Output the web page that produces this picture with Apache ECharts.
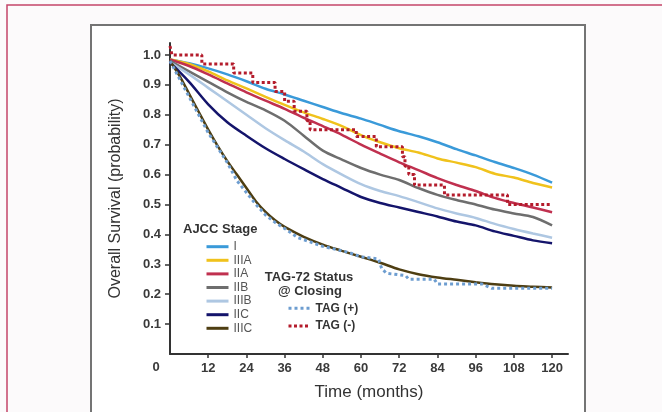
<!DOCTYPE html>
<html>
<head>
<meta charset="utf-8">
<script src="https://cdn.jsdelivr.net/npm/echarts@6/dist/echarts.min.js"></script>
<style>html,body{margin:0;padding:0;background:#fcfafb;}#c{width:662px;height:412px;}</style>
</head>
<body>
<div id="c"></div>
<script>
// ---- data ----
const stageMonths = [0,6,12,18,24,30,36,42,48,54,60,66,72,78,84,90,96,102,108,114,120];
const stageI    = [0.985,0.972,0.955,0.935,0.912,0.887,0.868,0.847,0.826,0.805,0.787,0.766,0.745,0.728,0.708,0.685,0.664,0.642,0.622,0.600,0.573];
const stageIIIA = [0.985,0.970,0.945,0.915,0.888,0.860,0.833,0.808,0.786,0.762,0.732,0.708,0.688,0.674,0.654,0.640,0.625,0.603,0.590,0.572,0.557];
const stageIIA  = [0.985,0.963,0.935,0.905,0.875,0.847,0.820,0.790,0.762,0.733,0.700,0.670,0.641,0.615,0.588,0.565,0.545,0.522,0.505,0.490,0.474];
const stageIIB  = [0.980,0.945,0.910,0.875,0.843,0.815,0.780,0.730,0.680,0.650,0.622,0.600,0.582,0.555,0.532,0.515,0.500,0.483,0.470,0.458,0.430];
const stageIIIB = [0.975,0.935,0.890,0.845,0.800,0.755,0.715,0.677,0.635,0.600,0.568,0.545,0.528,0.508,0.487,0.470,0.455,0.435,0.418,0.403,0.389];
const stageIIC  = [0.975,0.910,0.835,0.775,0.730,0.688,0.652,0.618,0.585,0.555,0.525,0.505,0.490,0.475,0.460,0.443,0.430,0.410,0.395,0.380,0.370];
const iiicMonths = [0,3,6,9,12,15,18,21,24,27,30,33,36,42,48,54,60,66,72,78,84,90,96,102,108,114,120];
const stageIIIC  = [0.980,0.930,0.870,0.810,0.750,0.695,0.645,0.600,0.555,0.510,0.475,0.447,0.425,0.392,0.366,0.345,0.325,0.305,0.283,0.267,0.256,0.248,0.240,0.233,0.228,0.225,0.222];
const tagPosMonths = [0,3,6,9,12,15,18,21,24,27,30,33,36,40,44,48,52,56,60,65.5,66.5,68,74,75,83,84,98,101,120];
const tagPosValues = [0.980,0.920,0.860,0.800,0.740,0.690,0.640,0.580,0.540,0.500,0.465,0.440,0.420,0.390,0.375,0.360,0.350,0.340,0.325,0.318,0.285,0.270,0.262,0.250,0.250,0.234,0.234,0.220,0.220];
const tagNegMonths = [0,0.6,10,20,26,33,36,39,43,44,58.5,64.8,73,73.8,75,76.8,86.2,106,120];
const tagNegValues = [1.03,1.0,0.97,0.94,0.908,0.878,0.845,0.812,0.78,0.75,0.727,0.693,0.66,0.628,0.60,0.565,0.532,0.50,0.50];
const stageNames = ['I','IIIA','IIA','IIB','IIIB','IIC','IIIC'];
const tagNames = ['TAG (+)','TAG (-)'];
const xTicks = [12,24,36,48,60,72,84,96,108,120];
const yTicks = [0.1,0.2,0.3,0.4,0.5,0.6,0.7,0.8,0.9,1.0];

const stageColors = ['#3a9ad9','#f0c21c','#c0304f','#6e6e6e','#aec7e2','#14146b','#4e3e12'];
const stageValues = [stageI,stageIIIA,stageIIA,stageIIB,stageIIIB,stageIIC];

const zip = (xs, ys) => xs.map((x,i)=>[x, ys[i]]);
const series = [];
stageNames.forEach((n,i)=>{
  const data = n === 'IIIC' ? zip(iiicMonths, stageIIIC) : zip(stageMonths, stageValues[i]);
  series.push({name:n,type:'line',data,symbol:'none',smooth:0.3,
    lineStyle:{color:stageColors[i],width:2.5},itemStyle:{color:stageColors[i]},z:2});
});
series.push({name:tagNames[0],type:'line',data:zip(tagPosMonths,tagPosValues),symbol:'none',
  lineStyle:{color:'#6d9dd0',width:3,type:[3,3]},itemStyle:{color:'#6d9dd0'},z:3});
series.push({name:tagNames[1],type:'line',step:'end',data:zip(tagNegMonths,tagNegValues),symbol:'none',
  lineStyle:{color:'#b41c2c',width:3,type:[3,2.5]},itemStyle:{color:'#b41c2c'},z:4});

const hiddenSymbol = {color:'rgba(0,0,0,0)',borderWidth:0,opacity:0};
const chart = echarts.init(document.getElementById('c'), null, {renderer:'canvas'});
chart.setOption({
  animation:false,
  backgroundColor:'#fcfafb',
  grid:{left:170,right:94,top:43,bottom:58,containLabel:false},
  xAxis:{type:'value',min:0,max:125,
    name:'Time (months)',nameLocation:'middle',nameGap:30,
    nameTextStyle:{fontSize:17,color:'#333',fontFamily:'Liberation Sans'},
    axisLine:{onZero:false,lineStyle:{color:'#333',width:2}},
    axisTick:{customValues:xTicks,length:4,lineStyle:{color:'#333',width:1.5}},
    axisLabel:{customValues:xTicks,margin:7.5,fontSize:13,fontWeight:'bold',color:'#3a3a3a',fontFamily:'Liberation Sans'},
    splitLine:{show:false}},
  yAxis:{type:'value',min:0,max:1.04,
    name:'Overall Survival (probability)',nameLocation:'middle',nameGap:46,
    nameTextStyle:{fontSize:16,color:'#333',fontFamily:'Liberation Sans'},
    axisLine:{onZero:false,lineStyle:{color:'#333',width:2}},
    axisTick:{customValues:yTicks,length:5,lineStyle:{color:'#333',width:1.5}},
    axisLabel:{customValues:yTicks,margin:9,fontSize:13,fontWeight:'bold',color:'#3a3a3a',fontFamily:'Liberation Sans',
      formatter:v=>v.toFixed(1)},
    splitLine:{show:false}},
  legend:[
    {data:stageNames,orient:'vertical',left:205,top:240.7,itemWidth:22,itemHeight:12,itemGap:1.6,padding:0,
      selectedMode:false,itemStyle:hiddenSymbol,lineStyle:{width:3},
      textStyle:{fontSize:12,color:'#555',lineHeight:12,fontFamily:'Liberation Sans'}},
    {data:tagNames,orient:'vertical',left:287,top:302.3,itemWidth:22,itemHeight:12,itemGap:5.7,padding:0,
      selectedMode:false,itemStyle:hiddenSymbol,lineStyle:{width:3},
      textStyle:{fontSize:12,fontWeight:'bold',color:'#333',lineHeight:12,fontFamily:'Liberation Sans'}}
  ],
  graphic:{elements:[
    {type:'rect',z:-10,shape:{x:7,y:5,width:700,height:500},style:{fill:'#fcfafb',stroke:'#c4466a',lineWidth:1.5},silent:true},
    {type:'rect',z:-9,shape:{x:91,y:25,width:494,height:450},style:{fill:'#ffffff',stroke:'#747474',lineWidth:2},silent:true},
    {type:'text',style:{text:'0',x:156,y:367,textAlign:'center',textVerticalAlign:'middle',font:'bold 13px "Liberation Sans"',fill:'#3a3a3a'}},
    {type:'text',style:{text:'AJCC Stage',x:183,y:229,textAlign:'left',textVerticalAlign:'middle',font:'bold 13px "Liberation Sans"',fill:'#333'}},
    {type:'text',style:{text:'TAG-72 Status',x:309,y:277,textAlign:'center',textVerticalAlign:'middle',font:'bold 13px "Liberation Sans"',fill:'#333'}},
    {type:'text',style:{text:'@ Closing',x:310,y:291.7,textAlign:'center',textVerticalAlign:'middle',font:'bold 13px "Liberation Sans"',fill:'#333'}}
  ]},
  series
});
</script>
</body>
</html>
